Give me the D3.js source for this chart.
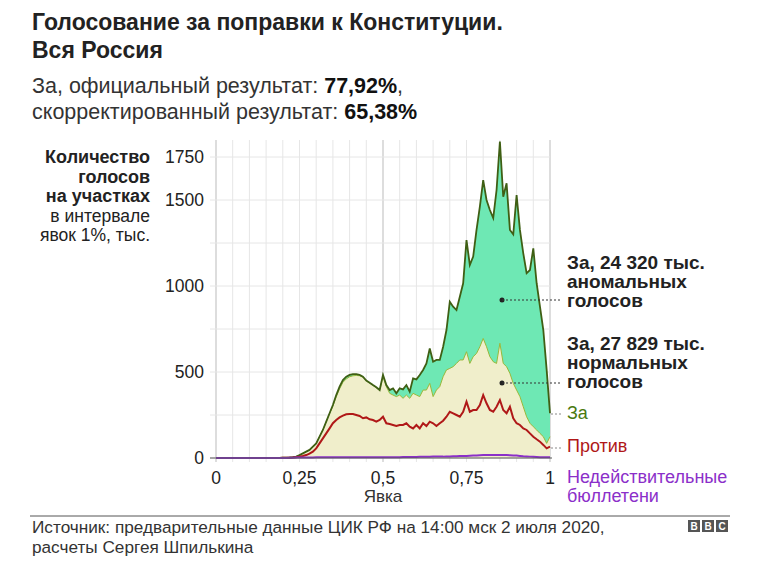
<!DOCTYPE html><html><head><meta charset="utf-8">
<script src="https://cdn.jsdelivr.net/npm/d3@7"></script>
<style>body{margin:0;background:#fff}text{font-family:"Liberation Sans",Arial,sans-serif}</style></head><body>
<svg id="c" width="768" height="567"></svg>
<script>
const turnout = d3.range(0,101).map(i=>i/100);
const zaTotal = [0,0,0,0,0,0,0,0,0,0,0,0,0,0,0,0,0,0,1,1,2,2,3,5,8,17,27,37,47,66,85,124,163,211,260,308,366,415,453,473,483,488,488,483,473,450,438,424,411,395,483,424,395,405,376,405,399,424,386,463,457,483,512,550,637,560,570,570,647,744,909,880,860,938,1016,1267,1122,1171,1326,1461,1616,1500,1442,1395,1558,1840,1519,1597,1326,1300,1529,1326,1190,1074,1093,1219,1016,880,744,512,260];
const zaNormal = [0,0,0,0,0,0,0,0,0,0,0,0,0,0,0,0,0,0,1,1,2,2,3,5,8,17,27,37,47,66,85,124,163,211,258,302,356,402,440,460,472,478,480,478,470,448,436,422,409,393,473,415,376,366,357,366,347,366,347,376,366,357,395,395,434,357,395,415,473,512,521,531,550,570,570,618,550,589,608,647,695,647,589,560,550,667,550,531,492,434,395,357,298,240,202,182,163,143,124,85,124];
const protiv = [0,0,0,0,0,0,0,0,0,0,0,0,0,0,0,0,0,0,0,0,1,1,2,3,5,8,12,17,25,37,56,85,114,143,172,202,221,236,246,254,256,256,250,244,231,236,225,221,211,221,240,202,198,192,186,192,192,202,182,172,192,172,202,186,211,202,186,202,217,240,269,260,250,240,269,327,269,279,279,308,366,318,279,269,298,337,279,260,298,231,202,192,172,163,143,124,109,95,76,56,66];
const invalid = turnout.map((t,i)=> i<22?0:[2,2,3,3,3,3,3,3,4,4,4,4,4,4,4,4,4,4,4,4,4,4,4,4,4,4,5,5,5,5,5,5,5,5,6,6,6,6,6,7,7,7,7,8,8,8,8,9,9,10,10,11,12,12,13,14,15,16,17,17,17,18,18,18,17,17,16,15,14,12,10,9,8,7,6,5,5,5,5][i-22]);
const yTicks=[0,500,1000,1500,1750], xTicks=[0,0.25,0.5,0.75,1], xLabels=["0","0,25","0,5","0,75","1"];
const svg=d3.select("#c");
const x=d3.scaleLinear().domain([0,1]).range([216,550]);
const y=d3.scaleLinear().domain([0,1750]).range([458,157]);
const g=svg.append("g");
d3.range(0,1.0001,0.05).forEach(v=>g.append("line").attr("x1",x(v)).attr("x2",x(v)).attr("y1",140).attr("y2",462).attr("stroke",[0,0.5,1].some(k=>Math.abs(k-v)<1e-6)?"#bbb":"#e6e6e6").attr("stroke-width",1));
d3.range(0,1751,250).forEach(v=>g.append("line").attr("x1",210).attr("x2",550).attr("y1",y(v)).attr("y2",y(v)).attr("stroke","#e6e6e6"));
const area=(a)=>d3.area().x((d,i)=>x(turnout[i])).y0(y(0)).y1((d,i)=>y(a[i]));
const line=d3.line().x((d,i)=>x(turnout[i])).y(d=>y(d));
g.append("path").attr("d",area(zaTotal)(zaTotal)).attr("fill","#6ee8b4");
g.append("path").attr("d",area(zaNormal)(zaNormal)).attr("fill","#f0eecb");
g.append("path").attr("d",line(zaNormal)).attr("fill","none").attr("stroke","#9ab83a").attr("stroke-width",1);
g.append("path").attr("d",line(zaTotal)).attr("fill","none").attr("stroke","#3f5f14").attr("stroke-width",1.8);
g.append("path").attr("d",line(protiv)).attr("fill","none").attr("stroke","#b01818").attr("stroke-width",2);
g.append("path").attr("d",line(invalid)).attr("fill","none").attr("stroke","#8b2fc9").attr("stroke-width",2);
g.append("line").attr("x1",210).attr("x2",552).attr("y1",y(0)).attr("y2",y(0)).attr("stroke","#555");
yTicks.forEach(v=>svg.append("text").attr("x",204).attr("y",y(v)+6).attr("text-anchor","end").attr("font-size",17.5).attr("fill","#222").text(v));
xTicks.forEach((v,i)=>svg.append("text").attr("x",x(v)).attr("y",484).attr("text-anchor","middle").attr("font-size",17.5).attr("fill","#222").text(xLabels[i]));
svg.append("text").attr("x",383).attr("y",502).attr("text-anchor","middle").attr("font-size",17).attr("fill","#333").text("Явка");
const T=(s,xx,yy,o)=>{const t=svg.append("text").attr("x",xx).attr("y",yy).text(s).attr("font-size",o.fs||16).attr("fill",o.c||"#222");if(o.b)t.attr("font-weight","bold");if(o.a)t.attr("text-anchor",o.a);return t;};
T("Голосование за поправки к Конституции.",32,30,{fs:23,b:1});
T("Вся Россия",32,58,{fs:23,b:1});
const s1=T("За, официальный результат: ",32,93,{fs:21.5,c:"#333"});s1.append("tspan").attr("font-weight","bold").attr("fill","#111").text("77,92%");s1.append("tspan").text(",");
const s2=T("скорректированный результат: ",32,119,{fs:21.5,c:"#333"});s2.append("tspan").attr("font-weight","bold").attr("fill","#111").text("65,38%");
[["Количество",1],["голосов",1],["на участках",1],["в интервале",0],["явок 1%, тыс.",0]].forEach((d,i)=>T(d[0],150,163+i*19.5,{fs:d[1]?18:17.5,b:d[1],a:"end",c:"#222"}));
[["За, 24 320 тыс.",269],["аномальных",288],["голосов",307]].forEach(d=>T(d[0],567,d[1],{fs:19,b:1}));
[["За, 27 829 тыс.",350],["нормальных",369],["голосов",388]].forEach(d=>T(d[0],567,d[1],{fs:19,b:1}));
T("За",567,419,{fs:18,c:"#4a7a10"});
T("Против",567,452,{fs:18,c:"#b01818"});
T("Недействительные",567,483,{fs:18,c:"#8b2fc9"});
T("бюллетени",567,502,{fs:18,c:"#8b2fc9"});
[[300],[383]].forEach(d=>{svg.append("circle").attr("cx",502).attr("cy",d[0]).attr("r",2.5).attr("fill","#222");svg.append("line").attr("x1",502).attr("x2",560).attr("y1",d[0]).attr("y2",d[0]).attr("stroke","#333").attr("stroke-dasharray","2,2");});
[[414],[448]].forEach(d=>svg.append("line").attr("x1",551).attr("x2",562).attr("y1",d[0]).attr("y2",d[0]).attr("stroke","#888").attr("stroke-dasharray","2,2"));
svg.append("line").attr("x1",30).attr("x2",730).attr("y1",516).attr("y2",516).attr("stroke","#555");
T("Источник: предварительные данные ЦИК РФ на 14:00 мск 2 июля 2020,",32,533,{fs:17.2,c:"#333"});
T("расчеты Сергея Шпилькина",32,553,{fs:17.2,c:"#333"});
["B","B","C"].forEach((l,i)=>{svg.append("rect").attr("x",688+i*14).attr("y",520).attr("width",12).attr("height",12).attr("fill","#555");T(l,694+i*14,530,{fs:10,b:1,c:"#fff",a:"middle"});});
</script></body></html>
